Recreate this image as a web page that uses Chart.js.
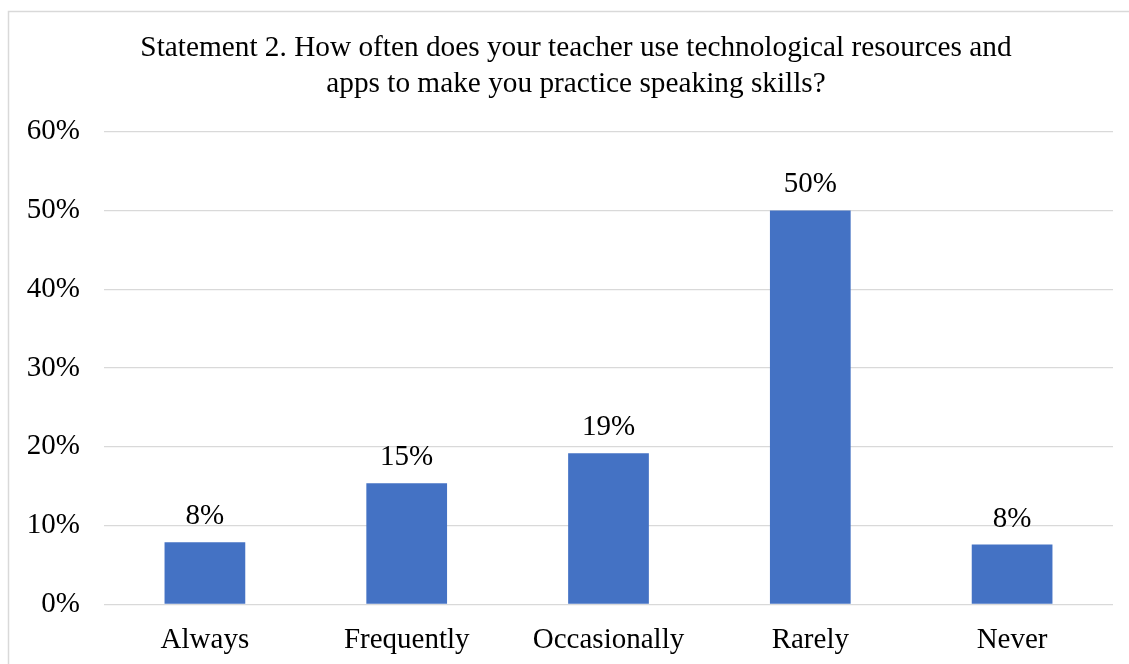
<!DOCTYPE html>
<html>
<head>
<meta charset="utf-8">
<script src="https://cdn.jsdelivr.net/npm/chart.js@4"></script>
<style>
  html, body { margin: 0; padding: 0; background: #fff; }
  #wrap { position: relative; width: 1129px; height: 664px; }
</style>
</head>
<body>
<div id="wrap"><canvas id="grafico" width="1129" height="664"></canvas></div>
<script>
// dados
const categorias = ['Always', 'Frequently', 'Occasionally', 'Rarely', 'Never'];
const valores = [7.9, 15.4, 19.2, 50.0, 7.6];
const ticksY = [0, 10, 20, 30, 40, 50, 60];
const titulo = [
    'Statement 2. How often does your teacher use technological resources and',
    'apps to make you practice speaking skills?'
];

const fonte = 'Liberation Serif, Times New Roman, serif';

// moldura cinza (só esquerda e topo aparecem no recorte)
const moldura = {
    id: 'moldura',
    afterLayout(chart) {
        // o título original fica centrado um pouco à direita
        chart.titleBlock.left = 39;
    },
    beforeDraw(chart) {
        const ctx = chart.ctx;
        ctx.save();
        ctx.strokeStyle = '#d9d9d9';
        ctx.lineWidth = 1.5;
        ctx.beginPath();
        ctx.moveTo(8.5, chart.height);
        ctx.lineTo(8.5, 11.5);
        ctx.lineTo(chart.width, 11.5);
        ctx.stroke();
        ctx.restore();
    }
};

// rótulos de valor acima das barras
const rotulos = {
    id: 'rotulos',
    afterDatasetsDraw(chart) {
        const ctx = chart.ctx;
        const meta = chart.getDatasetMeta(0);
        ctx.save();
        ctx.font = '29px ' + fonte;
        ctx.fillStyle = '#000';
        ctx.textAlign = 'center';
        ctx.textBaseline = 'alphabetic';
        meta.data.forEach((bar, i) => {
            ctx.fillText(Math.round(valores[i]) + '%', bar.x, bar.y - 18);
        });
        ctx.restore();
    }
};

const ctx = document.getElementById('grafico').getContext('2d');
new Chart(ctx, {
    type: 'bar',
    data: {
        labels: categorias,
        datasets: [{
            data: valores,
            backgroundColor: '#4472C4',
            categoryPercentage: 1,
            barPercentage: 0.4
        }]
    },
    options: {
        responsive: false,
        animation: false,
        layout: { padding: { left: 10, right: 16, top: 0, bottom: 0 } },
        plugins: {
            legend: { display: false },
            tooltip: { enabled: false },
            title: {
                display: true,
                text: titulo,
                color: '#000',
                font: { family: fonte, size: 29.3, weight: 'normal', lineHeight: 1.24 },
                padding: { top: 30, bottom: 29 }
            }
        },
        scales: {
            x: {
                grid: { display: false },
                border: { display: false },
                ticks: { color: '#000', font: { family: fonte, size: 29 }, padding: 10, maxRotation: 0 },
                afterFit(scale) { scale.height = 59.5; }
            },
            y: {
                min: 0,
                max: 60,
                afterBuildTicks(scale) { scale.ticks = ticksY.map(v => ({ value: v })); },
                grid: { color: '#d9d9d9', lineWidth: 1.3, drawTicks: false },
                border: { display: false },
                ticks: {
                    color: '#000',
                    font: { family: fonte, size: 29 },
                    padding: 24,
                    callback: v => v + '%'
                },
                afterFit(scale) { scale.width = 94; }
            }
        }
    },
    plugins: [moldura, rotulos]
});
</script>
</body>
</html>
